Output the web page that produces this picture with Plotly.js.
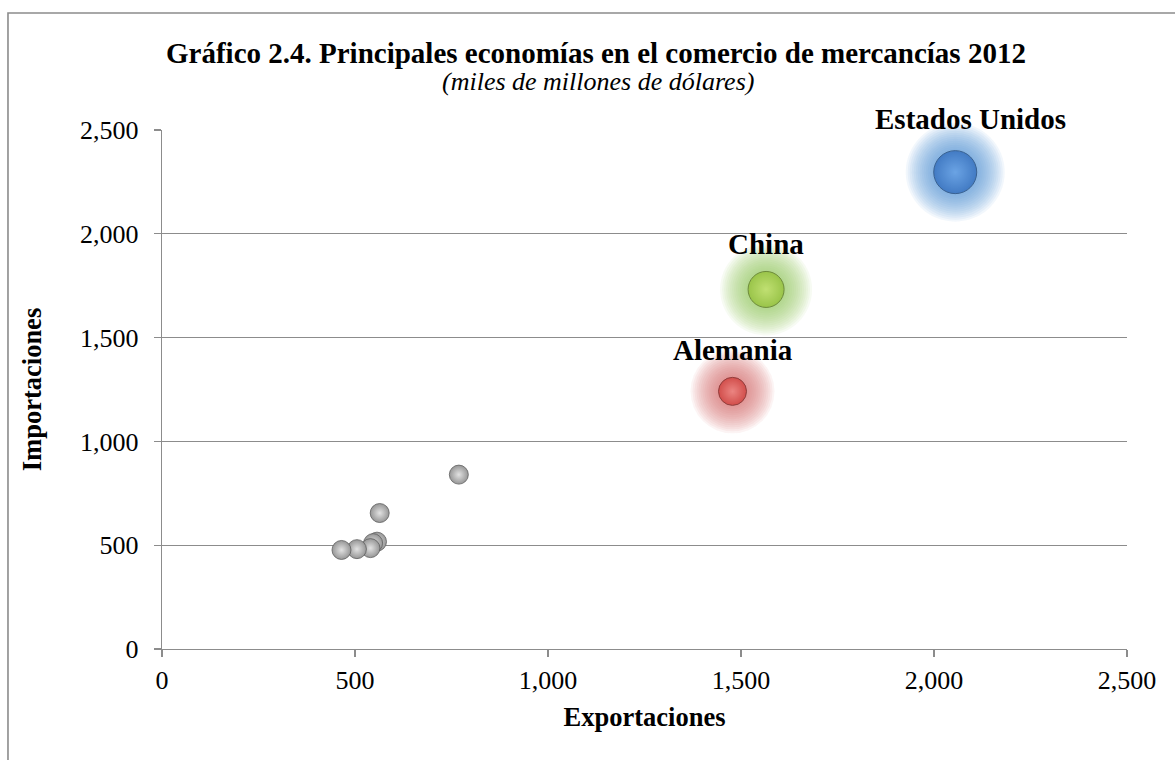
<!DOCTYPE html>
<html>
<head>
<meta charset="utf-8">
<script src="https://cdn.plot.ly/plotly-3.0.1.min.js"></script>
<style>
html,body{margin:0;padding:0;background:#ffffff;}
#chart{width:1175px;height:760px;}
</style>
</head>
<body>
<div id="chart"></div>
<script>
// ---- Data (miles de millones de dólares, 2012) ----
const economias = ['Estados Unidos', 'China', 'Alemania'];
const exportaciones = [2055, 1565, 1478];
const importaciones = [2297, 1732, 1241];
const otrasExportaciones = [769, 564, 557, 547, 540, 505, 465];
const otrasImportaciones = [840, 655, 517, 510, 486, 481, 477];
const ejeValores = [0, 500, 1000, 1500, 2000, 2500];
const ejeTextos = ['0', '500', '1,000', '1,500', '2,000', '2,500'];

// ---- Styles ----
const FONT = '"Liberation Serif", "Times New Roman", Times, serif';
const diametros = [43, 36, 28];
const diametroOtros = 19;
const colorBase = ['#2563b8', '#8fbd2c', '#cc2f2b'];
const colorCentro = ['#5f9de6', '#c6e466', '#f07d78'];
const colorBorde = ['#183f70', '#4f6b18', '#6e1614'];
const colorHalo = ['rgb(84,142,212)', 'rgb(152,198,88)', 'rgb(216,106,104)'];
const gris = '#8c8c8c';

const traces = [];

// soft glow layers
for (let k = 14; k >= 1; k--) {
  const extra = k * 4;
  traces.push({
    type: 'scatter', mode: 'markers',
    x: exportaciones, y: importaciones,
    marker: {
      size: diametros.map(function (d) { return d + extra; }),
      color: colorHalo, opacity: 0.075, line: {width: 0}
    },
    hoverinfo: 'skip', showlegend: false, cliponaxis: false
  });
}

// grey economies
traces.push({
  type: 'scatter', mode: 'markers',
  x: otrasExportaciones, y: otrasImportaciones,
  marker: {
    size: diametroOtros, color: '#969696',
    gradient: {type: 'radial', color: '#e2e2e2'},
    line: {width: 0.8, color: '#5e5e5e'}
  },
  hoverinfo: 'skip', showlegend: false, cliponaxis: false
});

// highlighted economies
traces.push({
  type: 'scatter', mode: 'markers',
  x: exportaciones, y: importaciones, text: economias,
  marker: {
    size: diametros, color: colorBase,
    gradient: {type: 'radial', color: colorCentro},
    line: {width: 1, color: colorBorde}
  },
  hoverinfo: 'skip', showlegend: false, cliponaxis: false
});

const desplX = [15, 0, 0];
const desplY = [53, 45, 41];
const annotations = economias.map(function (n, i) {
  return {
    x: exportaciones[i], y: importaciones[i], xref: 'x', yref: 'y',
    text: n, showarrow: false,
    xshift: desplX[i], yshift: desplY[i],
    font: {family: FONT, size: 29, color: '#000', weight: 'bold'}
  };
});
annotations.push({
  xref: 'paper', yref: 'paper', x: 0.4497, y: 1.1484,
  xanchor: 'center', yanchor: 'middle', showarrow: false,
  text: 'Gráfico 2.4. Principales economías en el comercio de mercancías 2012',
  font: {family: FONT, size: 29, color: '#000', weight: 'bold'}
});
annotations.push({
  xref: 'paper', yref: 'paper', x: 0.4518, y: 1.0925,
  xanchor: 'center', yanchor: 'middle', showarrow: false,
  text: '(miles de millones de dólares)',
  font: {family: FONT, size: 26, color: '#000', style: 'italic'}
});

const layout = {
  width: 1175, height: 760,
  margin: {l: 162, r: 48, t: 130, b: 111, pad: 0},
  paper_bgcolor: '#ffffff', plot_bgcolor: '#ffffff',
  font: {family: FONT, color: '#000'},
  showlegend: false, hovermode: false,
  xaxis: {
    range: [0, 2500], tickmode: 'array', tickvals: ejeValores, ticktext: ejeTextos,
    ticks: 'outside', ticklen: 7, tickwidth: 1.3, tickcolor: gris,
    showline: true, linecolor: gris, linewidth: 1.3,
    showgrid: false, zeroline: false,
    tickfont: {family: FONT, size: 26, color: '#000'},
    title: {text: 'Exportaciones', font: {family: FONT, size: 26.5, color: '#000', weight: 'bold'}, standoff: 14},
    fixedrange: true
  },
  yaxis: {
    range: [0, 2500], tickmode: 'array', tickvals: ejeValores, ticktext: ejeTextos,
    ticks: 'outside', ticklen: 7, tickwidth: 1.3, tickcolor: gris,
    showline: true, linecolor: gris, linewidth: 1.3, ticklabelstandoff: 10,
    showgrid: true, gridcolor: gris, gridwidth: 1.3, zeroline: false,
    tickfont: {family: FONT, size: 26, color: '#000'},
    title: {text: 'Importaciones', font: {family: FONT, size: 26.5, color: '#000', weight: 'bold'}, standoff: 30},
    fixedrange: true
  },
  annotations: annotations,
  shapes: [{
    type: 'rect', xref: 'paper', yref: 'paper',
    x0: -0.1596, x1: 1.08, y0: -0.3, y1: 1.2254,
    line: {color: gris, width: 1.6}, fillcolor: 'rgba(0,0,0,0)', layer: 'below'
  }]
};

Plotly.newPlot('chart', traces, layout, {staticPlot: true, displayModeBar: false});
</script>
</body>
</html>
